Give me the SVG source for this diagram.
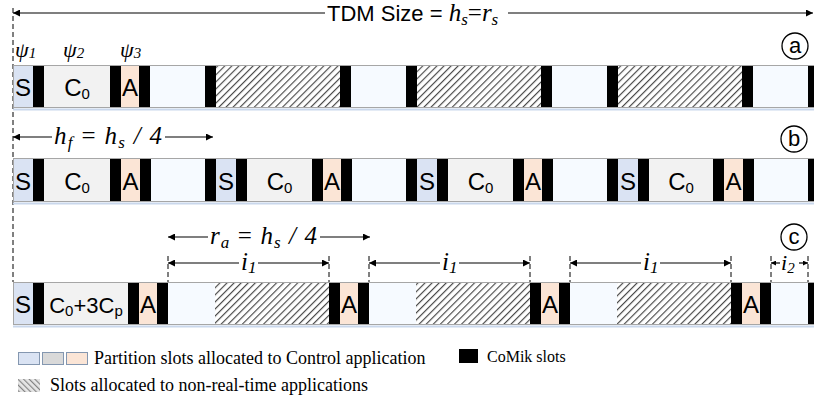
<svg xmlns="http://www.w3.org/2000/svg" width="814" height="406" viewBox="0 0 814 406">
<defs>
<pattern id="hatch" width="5" height="5" patternUnits="userSpaceOnUse" patternTransform="rotate(45)">
<rect width="5" height="5" fill="#ffffff"/><line x1="0.6" y1="0" x2="0.6" y2="5" stroke="#404040" stroke-width="1.1"/>
</pattern>
<pattern id="hatchL" width="4" height="4" patternUnits="userSpaceOnUse" patternTransform="rotate(-45)">
<rect width="4" height="4" fill="#e6e6e6"/><line x1="0.6" y1="0" x2="0.6" y2="4" stroke="#7f7f7f" stroke-width="1.1"/>
</pattern>
<marker id="arr" viewBox="0 0 10 10" refX="10" refY="5" markerWidth="11" markerHeight="7" markerUnits="userSpaceOnUse" orient="auto-start-reverse">
<path d="M0,0 L10,5 L0,10 z" fill="#000"/>
</marker>
<marker id="arrS" viewBox="0 0 10 10" refX="10" refY="5" markerWidth="7" markerHeight="5" markerUnits="userSpaceOnUse" orient="auto-start-reverse">
<path d="M0,0 L10,5 L0,10 z" fill="#000"/>
</marker>
</defs>
<style>
.s{fill:#dae3f3}
.c{fill:#f2f2f2}
.a{fill:#fbe5d6}
.w{fill:#f6faff}
.k{fill:#000}
.h{fill:url(#hatch)}
.bar{fill:none;stroke:#a6a6a6;stroke-width:1}
.shadow{stroke:#c9d7ec;stroke-width:2}
.lbl{font-family:"Liberation Sans",Arial,sans-serif;font-size:24px;fill:#000;text-anchor:middle}
.sub{font-size:15px}
.sans{font-family:"Liberation Sans",Arial,sans-serif;font-size:22px}
.it{font-family:"Liberation Serif","Times New Roman",serif;font-style:italic;font-size:22px}
.it2{font-family:"Liberation Serif","Times New Roman",serif;font-style:italic;font-size:25px}
.rm{font-family:"Liberation Serif","Times New Roman",serif;font-size:22px}
.rm2{font-family:"Liberation Serif","Times New Roman",serif;font-size:25px}
.isub{font-family:"Liberation Serif","Times New Roman",serif;font-style:italic;font-size:15px}
.isub2{font-family:"Liberation Serif","Times New Roman",serif;font-style:italic;font-size:17px}
.leg{font-family:"Liberation Serif","Times New Roman",serif;font-size:18px;fill:#000}
.dim{stroke:#000;stroke-width:1.2;fill:none}
.tick{stroke:#000;stroke-width:1;stroke-dasharray:5,3}
.circ{fill:#fff;stroke:#000;stroke-width:1.3}
.cl{font-family:"Liberation Sans",Arial,sans-serif;font-size:22px;text-anchor:middle}
.lbox{stroke:#8497b0;stroke-width:1}
</style>

<line x1="13" y1="8" x2="13" y2="282" class="tick"/>

<g id="row-a">
<rect x="13" y="65" width="20" height="43" class="s"/>
<rect x="33" y="65" width="11" height="43" class="k"/>
<rect x="44" y="65" width="66" height="43" class="c"/>
<rect x="110" y="65" width="11" height="43" class="k"/>
<rect x="121" y="65" width="18" height="43" class="a"/>
<rect x="139" y="65" width="11" height="43" class="k"/>
<rect x="150" y="65" width="55" height="43" class="w"/>
<rect x="205" y="65" width="11" height="43" class="k"/>
<rect x="216" y="65" width="124" height="43" class="h"/>
<rect x="340" y="65" width="11" height="43" class="k"/>
<rect x="351" y="65" width="55" height="43" class="w"/>
<rect x="406" y="65" width="11" height="43" class="k"/>
<rect x="417" y="65" width="124" height="43" class="h"/>
<rect x="541" y="65" width="11" height="43" class="k"/>
<rect x="552" y="65" width="55" height="43" class="w"/>
<rect x="607" y="65" width="11" height="43" class="k"/>
<rect x="618" y="65" width="124" height="43" class="h"/>
<rect x="742" y="65" width="11" height="43" class="k"/>
<rect x="753" y="65" width="55" height="43" class="w"/>
<rect x="808" y="65" width="6" height="43" class="k"/>
<line x1="13" y1="109.5" x2="814" y2="109.5" class="shadow"/>
<rect x="13.5" y="65.5" width="801" height="42" class="bar"/>
<text x="23" y="96" class="lbl">S</text>
<text x="77" y="96" class="lbl">C<tspan class="sub" dy="3">0</tspan></text>
<text x="130" y="96" class="lbl">A</text>
</g>

<g id="row-b">
<rect x="13" y="158" width="20" height="44" class="s"/>
<rect x="33" y="158" width="11" height="44" class="k"/>
<rect x="44" y="158" width="66" height="44" class="c"/>
<rect x="110" y="158" width="11" height="44" class="k"/>
<rect x="121" y="158" width="19" height="44" class="a"/>
<rect x="140" y="158" width="11" height="44" class="k"/>
<rect x="151" y="158" width="54" height="44" class="w"/>
<rect x="205" y="158" width="11" height="44" class="k"/>
<rect x="216" y="158" width="20" height="44" class="s"/>
<rect x="236" y="158" width="11" height="44" class="k"/>
<rect x="247" y="158" width="65" height="44" class="c"/>
<rect x="312" y="158" width="11" height="44" class="k"/>
<rect x="323" y="158" width="18" height="44" class="a"/>
<rect x="341" y="158" width="11" height="44" class="k"/>
<rect x="352" y="158" width="54" height="44" class="w"/>
<rect x="406" y="158" width="11" height="44" class="k"/>
<rect x="417" y="158" width="20" height="44" class="s"/>
<rect x="437" y="158" width="11" height="44" class="k"/>
<rect x="448" y="158" width="65" height="44" class="c"/>
<rect x="513" y="158" width="11" height="44" class="k"/>
<rect x="524" y="158" width="18" height="44" class="a"/>
<rect x="542" y="158" width="11" height="44" class="k"/>
<rect x="553" y="158" width="54" height="44" class="w"/>
<rect x="607" y="158" width="11" height="44" class="k"/>
<rect x="618" y="158" width="20" height="44" class="s"/>
<rect x="638" y="158" width="11" height="44" class="k"/>
<rect x="649" y="158" width="64" height="44" class="c"/>
<rect x="713" y="158" width="11" height="44" class="k"/>
<rect x="724" y="158" width="19" height="44" class="a"/>
<rect x="743" y="158" width="11" height="44" class="k"/>
<rect x="754" y="158" width="54" height="44" class="w"/>
<rect x="808" y="158" width="6" height="44" class="k"/>
<line x1="13" y1="203.5" x2="814" y2="203.5" class="shadow"/>
<rect x="13.5" y="158.5" width="801" height="43" class="bar"/>
<text x="23" y="190" class="lbl">S</text>
<text x="77" y="190" class="lbl">C<tspan class="sub" dy="3">0</tspan></text>
<text x="130.5" y="190" class="lbl">A</text>
<text x="226" y="190" class="lbl">S</text>
<text x="279.5" y="190" class="lbl">C<tspan class="sub" dy="3">0</tspan></text>
<text x="332" y="190" class="lbl">A</text>
<text x="427" y="190" class="lbl">S</text>
<text x="480.5" y="190" class="lbl">C<tspan class="sub" dy="3">0</tspan></text>
<text x="533" y="190" class="lbl">A</text>
<text x="628" y="190" class="lbl">S</text>
<text x="681" y="190" class="lbl">C<tspan class="sub" dy="3">0</tspan></text>
<text x="733.5" y="190" class="lbl">A</text>
</g>

<g id="row-c">
<rect x="13" y="282" width="20" height="43" class="s"/>
<rect x="33" y="282" width="11" height="43" class="k"/>
<rect x="44" y="282" width="84" height="43" class="c"/>
<rect x="128" y="282" width="11" height="43" class="k"/>
<rect x="139" y="282" width="18" height="43" class="a"/>
<rect x="157" y="282" width="11" height="43" class="k"/>
<rect x="168" y="282" width="47" height="43" class="w"/>
<rect x="215" y="282" width="114" height="43" class="h"/>
<rect x="329" y="282" width="11" height="43" class="k"/>
<rect x="340" y="282" width="18" height="43" class="a"/>
<rect x="358" y="282" width="11" height="43" class="k"/>
<rect x="369" y="282" width="47" height="43" class="w"/>
<rect x="416" y="282" width="114" height="43" class="h"/>
<rect x="530" y="282" width="11" height="43" class="k"/>
<rect x="541" y="282" width="18" height="43" class="a"/>
<rect x="559" y="282" width="11" height="43" class="k"/>
<rect x="570" y="282" width="47" height="43" class="w"/>
<rect x="617" y="282" width="114" height="43" class="h"/>
<rect x="731" y="282" width="11" height="43" class="k"/>
<rect x="742" y="282" width="18" height="43" class="a"/>
<rect x="760" y="282" width="11" height="43" class="k"/>
<rect x="771" y="282" width="37" height="43" class="w"/>
<rect x="808" y="282" width="6" height="43" class="k"/>
<line x1="13" y1="326.5" x2="814" y2="326.5" class="shadow"/>
<rect x="13.5" y="282.5" width="801" height="42" class="bar"/>
<text x="23" y="313" class="lbl">S</text>
<text x="86" y="313" class="lbl" style="font-size:22px">C<tspan class="sub" dy="3">0</tspan><tspan dy="-3">+3C</tspan><tspan class="sub" dy="3">p</tspan></text>
<text x="148" y="313" class="lbl">A</text>
<text x="349" y="313" class="lbl">A</text>
<text x="550" y="313" class="lbl">A</text>
<text x="751" y="313" class="lbl">A</text>
</g>

<g id="labels">
<text x="15" y="57"><tspan class="it">ψ</tspan><tspan class="isub" dy="1">1</tspan></text>
<text x="63" y="57"><tspan class="it">ψ</tspan><tspan class="isub" dy="1">2</tspan></text>
<text x="120" y="57"><tspan class="it">ψ</tspan><tspan class="isub" dy="1">3</tspan></text>
<circle cx="795" cy="46" r="13" class="circ"/>
<text x="795" y="53" class="cl">a</text>
<circle cx="794" cy="139" r="13" class="circ"/>
<text x="794" y="146" class="cl">b</text>
<circle cx="794" cy="237" r="13" class="circ"/>
<text x="794" y="244" class="cl">c</text>
</g>

<g id="connectors">
<line x1="13" y1="13" x2="325" y2="13" class="dim" marker-start="url(#arr)"/>
<line x1="508" y1="13" x2="813" y2="13" class="dim" marker-end="url(#arr)"/>
<text x="327" y="21"><tspan class="sans">TDM Size = </tspan><tspan class="it2">h</tspan><tspan class="isub2" dy="4">s</tspan><tspan class="rm2" dy="-4">=</tspan><tspan class="it2">r</tspan><tspan class="isub2" dy="4">s</tspan></text>

<line x1="13" y1="137" x2="52" y2="137" class="dim" marker-start="url(#arr)"/>
<line x1="165" y1="137" x2="213" y2="137" class="dim" marker-end="url(#arr)"/>
<text x="54" y="144" textLength="108" lengthAdjust="spacing"><tspan class="it2">h</tspan><tspan class="isub2" dy="4">f</tspan><tspan class="rm2" dy="-4"> = </tspan><tspan class="it2">h</tspan><tspan class="isub2" dy="4">s</tspan><tspan class="it2" dy="-4"> / 4</tspan></text>

<line x1="168" y1="237" x2="208" y2="237" class="dim" marker-start="url(#arr)"/>
<line x1="320" y1="237" x2="370" y2="237" class="dim" marker-end="url(#arr)"/>
<text x="210" y="244" textLength="107" lengthAdjust="spacing"><tspan class="it2">r</tspan><tspan class="isub2" dy="4">a</tspan><tspan class="rm2" dy="-4"> = </tspan><tspan class="it2">h</tspan><tspan class="isub2" dy="4">s</tspan><tspan class="it2" dy="-4"> / 4</tspan></text>

<line x1="168" y1="256" x2="168" y2="282" class="tick"/>
<line x1="329" y1="256" x2="329" y2="282" class="tick"/>
<line x1="369" y1="256" x2="369" y2="282" class="tick"/>
<line x1="530" y1="256" x2="530" y2="282" class="tick"/>
<line x1="570" y1="256" x2="570" y2="282" class="tick"/>
<line x1="731" y1="256" x2="731" y2="282" class="tick"/>
<line x1="771" y1="256" x2="771" y2="282" class="tick"/>
<line x1="808" y1="256" x2="808" y2="282" class="tick"/>

<line x1="168" y1="263" x2="239" y2="263" class="dim" marker-start="url(#arr)"/>
<line x1="258" y1="263" x2="329" y2="263" class="dim" marker-end="url(#arr)"/>
<text x="241" y="270"><tspan class="it2">i</tspan><tspan class="isub2" dy="3">1</tspan></text>
<line x1="369" y1="263" x2="440" y2="263" class="dim" marker-start="url(#arr)"/>
<line x1="459" y1="263" x2="530" y2="263" class="dim" marker-end="url(#arr)"/>
<text x="442" y="270"><tspan class="it2">i</tspan><tspan class="isub2" dy="3">1</tspan></text>
<line x1="570" y1="263" x2="641" y2="263" class="dim" marker-start="url(#arr)"/>
<line x1="660" y1="263" x2="731" y2="263" class="dim" marker-end="url(#arr)"/>
<text x="643" y="270"><tspan class="it2">i</tspan><tspan class="isub2" dy="3">1</tspan></text>
<line x1="771" y1="263" x2="780" y2="263" class="dim" marker-start="url(#arrS)"/>
<line x1="799" y1="263" x2="808" y2="263" class="dim" marker-end="url(#arrS)"/>
<text x="781" y="270"><tspan class="it">i</tspan><tspan class="isub" dy="3">2</tspan></text>
</g>

<g id="legend">
<rect x="18.5" y="352.5" width="21" height="12" class="s lbox"/>
<rect x="42.5" y="352.5" width="21" height="12" class="lbox" fill="#d9d9d9"/>
<rect x="66.5" y="352.5" width="21" height="12" class="a lbox"/>
<text x="94" y="364" class="leg">Partition slots allocated to Control application</text>
<rect x="459" y="349" width="19" height="14" class="k"/>
<text x="487" y="362" class="leg" style="font-size:16px">CoMik slots</text>
<rect x="18" y="379" width="22" height="13" fill="url(#hatchL)"/>
<text x="50" y="391" class="leg">Slots allocated to non-real-time applications</text>
</g>
</svg>
